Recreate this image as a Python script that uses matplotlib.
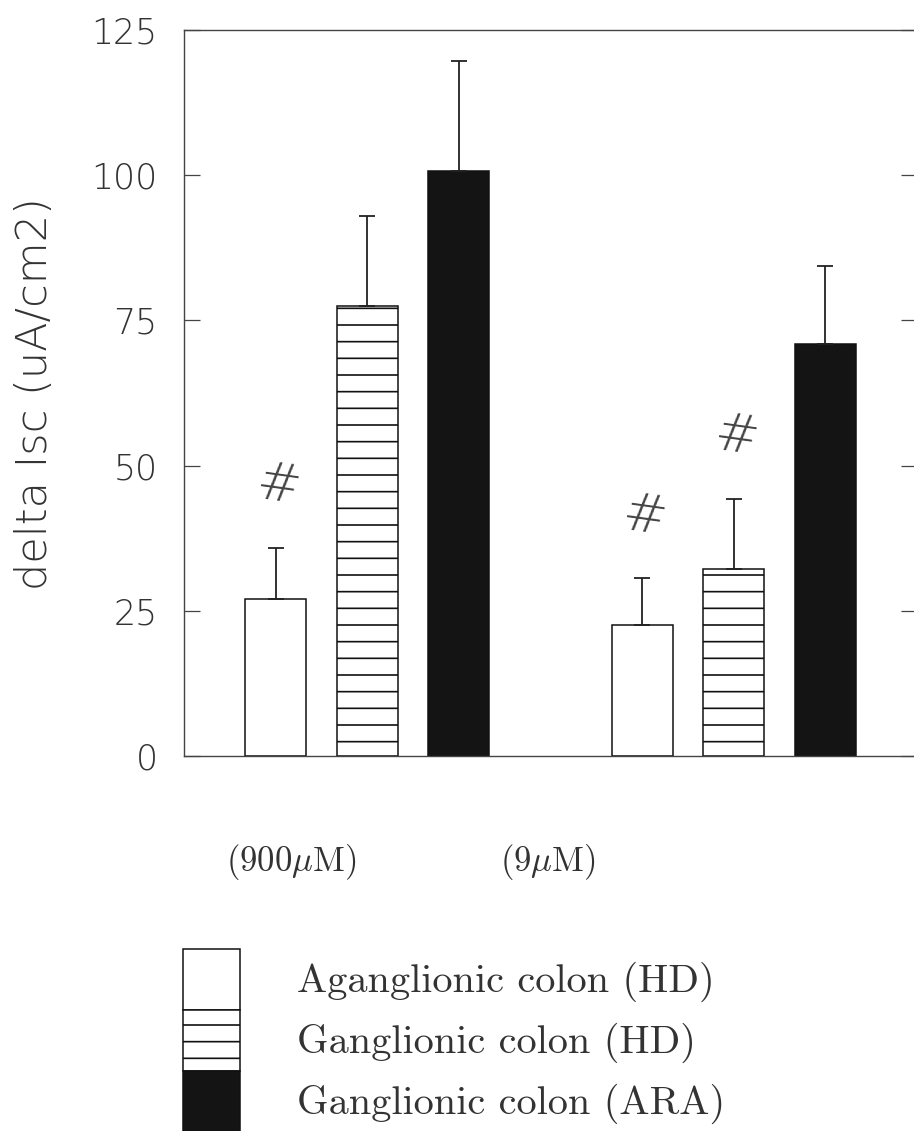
import matplotlib
matplotlib.use("Agg")
import matplotlib.pyplot as plt
import numpy as np

plt.rcParams['mathtext.fontset'] = 'cm'
plt.rcParams['hatch.linewidth'] = 1.2

# data
groups = [r'$(900\mu\mathrm{M})$', r'$(9\mu\mathrm{M})$']
series = ['Aganglionic colon (HD)', 'Ganglionic colon (HD)', 'Ganglionic colon (ARA)']
means = [[27.1, 22.5],
         [77.5, 32.2],
         [100.8, 71.0]]
sems = [[8.7, 8.1],
        [15.5, 12.1],
        [18.8, 13.4]]
signif = [[True, True],
          [False, True],
          [False, False]]
yticks = [0, 25, 50, 75, 100, 125]

# styles
faces = ['white', 'white', '#141414']
hatches = [None, '-', None]
txt_col = '#333333'
sans = dict(family='DejaVu Sans', fontweight=200)
W, H = 914, 1131

fig = plt.figure(figsize=(W / 100, H / 100), dpi=100)
ax = fig.add_axes([184 / W, 1 - 756 / H, (917 - 184) / W, (756 - 30) / H])

group_x = np.array([0, 4])
bars = []
for i, name in enumerate(series):
    xs = group_x + 1 + i
    b = ax.bar(xs, means[i], width=0.667, color=faces[i], edgecolor='#111111',
               hatch=hatches[i], linewidth=1.1, label=name,
               yerr=[np.zeros(len(sems[i])), sems[i]],
               error_kw=dict(ecolor='#222222', elinewidth=1.3, capsize=5.5, capthick=1.3))
    bars.append(b)
    for j in range(len(groups)):
        if signif[i][j]:
            ax.annotate('#', (xs[j], means[i][j] + sems[i][j]), xytext=(2, 44),
                        textcoords='offset points', ha='center', va='center',
                        fontsize=38, rotation=-8, color='#444444', **sans)

ax.set_xlim(0, 8)
ax.set_ylim(0, 125)
ax.set_yticks(yticks)
ax.set_yticklabels([str(t) for t in yticks], fontsize=25, color=txt_col, **sans)
ax.tick_params(axis='y', direction='in', length=11.5, width=0.9, color='#444444',
               pad=19, right=True)
ax.set_xticks([1.17, 3.97])
ax.set_xticklabels(groups, fontsize=25, color=txt_col)
ax.tick_params(axis='x', length=0, pad=62)

for s in ['left', 'top', 'bottom']:
    ax.spines[s].set_linewidth(1.0)
    ax.spines[s].set_color('#444444')
ax.spines['right'].set_visible(False)

ax.set_ylabel('delta Isc (uA/cm2)', fontsize=31, color=txt_col, **sans)
ax.yaxis.set_label_coords(-0.176, 0.499)

fig.legend(handles=bars, labels=series, loc='upper left',
           bbox_to_anchor=(182.7 / W, 1 - 949 / H), frameon=False,
           borderpad=0, borderaxespad=0, labelspacing=0,
           handlelength=1.43, handleheight=1.95, handletextpad=1.4,
           prop=dict(family='cmr10', size=29), labelcolor=txt_col)

fig.savefig('out.png', dpi=100)
